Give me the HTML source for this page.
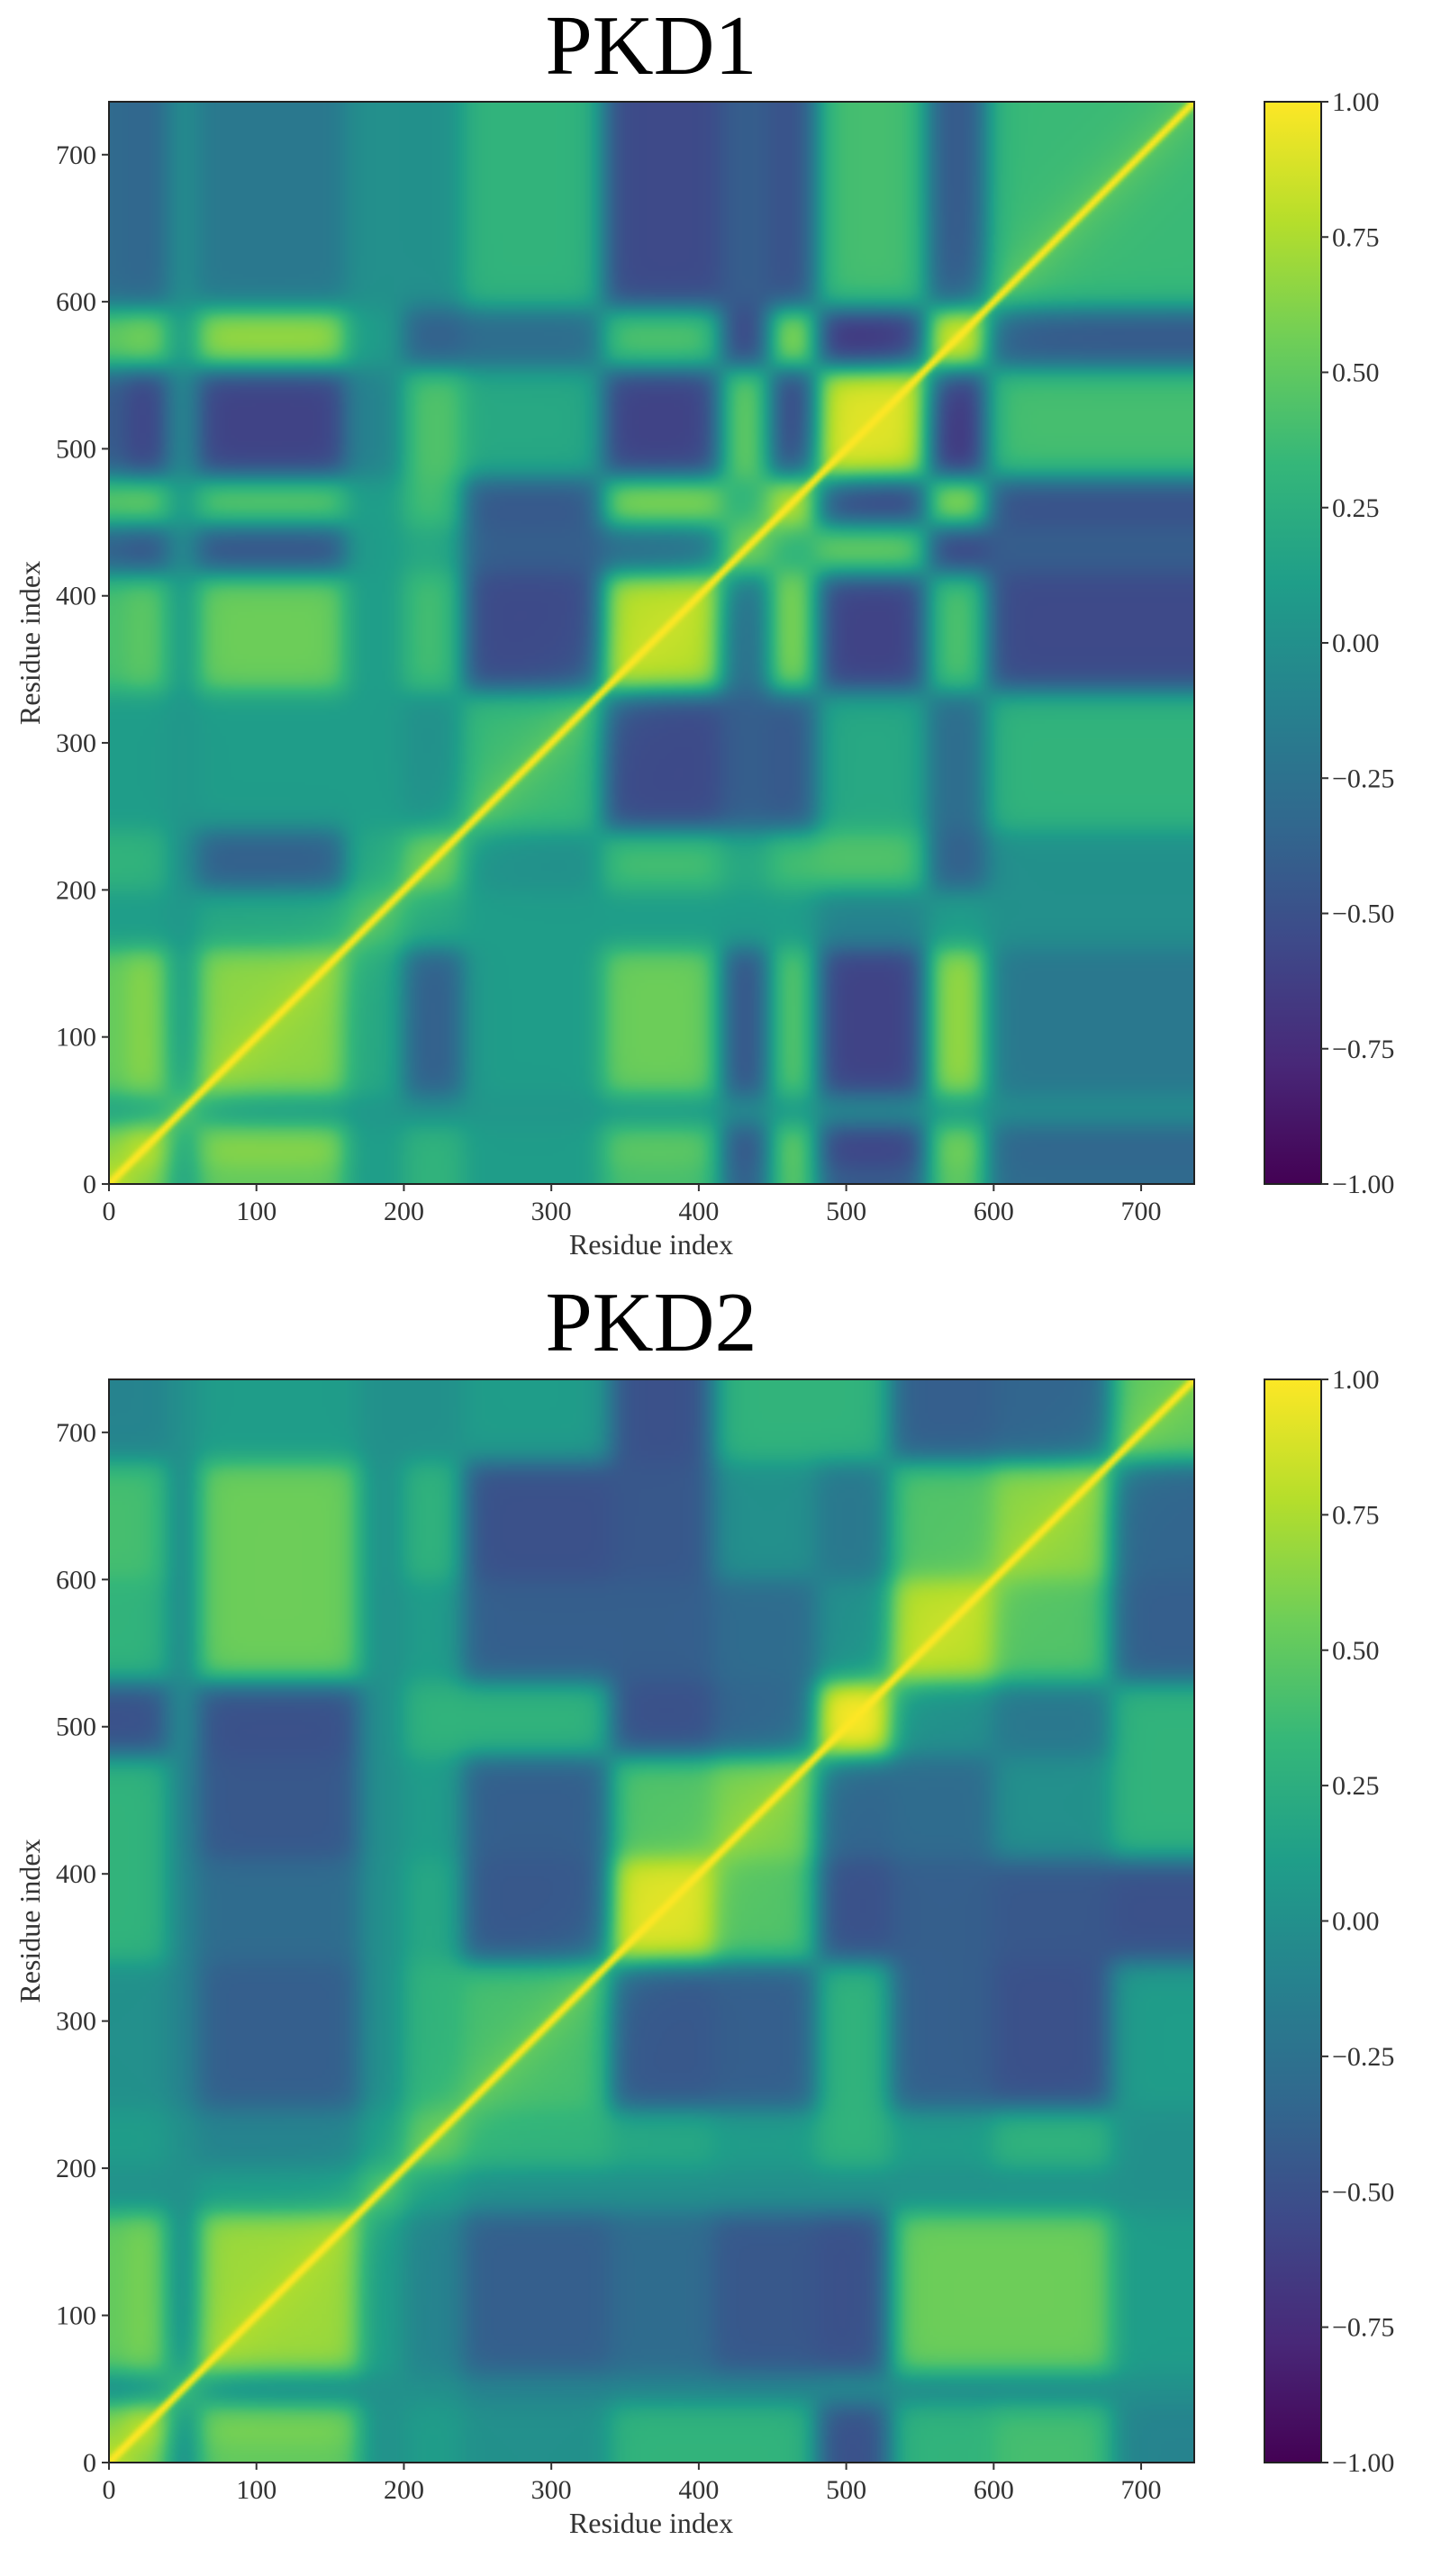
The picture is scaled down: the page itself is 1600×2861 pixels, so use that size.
<!DOCTYPE html>
<html><head><meta charset="utf-8"><style>
html,body{margin:0;padding:0;background:#fff;}
body{width:1600px;height:2861px;position:relative;overflow:hidden;font-family:"Liberation Serif",serif;}
canvas{position:absolute;}
svg{position:absolute;left:0;top:0;}
</style></head><body>
<canvas id="hm1" width="368" height="368" style="left:121px;top:113px;width:1205px;height:1202px;"></canvas>
<canvas id="hm2" width="368" height="368" style="left:121px;top:1532px;width:1205px;height:1203px;"></canvas>
<svg id="svg" width="1600" height="2861"></svg>
<script>
const nResidues = 736;
const xTicks = [0,100,200,300,400,500,600,700];
const cbTicks = [1.00,0.75,0.50,0.25,0.00,-0.25,-0.50,-0.75,-1.00];
const titles = ["PKD1","PKD2"];
const blockEnds1 = [12,40,60,160,200,240,335,415,448,480,555,595,736];
const blockCorr1 = [
[0.8,0.6,0.1,0.5,0.1,0.3,0.1,0.4,-0.4,0.5,-0.4,0.5,-0.3],
[0.6,0.8,0.1,0.65,0.1,0.3,0.1,0.5,-0.5,0.55,-0.6,0.6,-0.35],
[0.1,0.1,0.4,0.05,0.05,0.0,0.05,0.05,0.0,0.05,0.0,0.05,0.0],
[0.5,0.65,0.05,0.65,0.2,-0.4,0.1,0.55,-0.5,0.5,-0.6,0.7,-0.2],
[0.1,0.1,0.05,0.2,0.35,0.2,0.1,0.1,0.1,0.1,-0.1,0.1,0.0],
[0.3,0.3,0.0,-0.4,0.2,0.5,0.0,0.4,0.2,0.4,0.45,-0.4,0.0],
[0.1,0.1,0.05,0.1,0.1,0.0,0.35,-0.55,-0.4,-0.45,0.2,-0.3,0.3],
[0.4,0.5,0.05,0.55,0.1,0.4,-0.55,0.8,-0.3,0.65,-0.6,0.45,-0.55],
[-0.4,-0.5,0.0,-0.5,0.1,0.2,-0.4,-0.3,0.5,0.25,0.55,-0.6,-0.4],
[0.5,0.55,0.05,0.5,0.1,0.4,-0.45,0.65,0.25,0.8,-0.6,0.7,-0.5],
[-0.4,-0.6,0.0,-0.6,-0.1,0.45,0.2,-0.6,0.55,-0.6,0.9,-0.7,0.4],
[0.5,0.6,0.05,0.7,0.1,-0.4,-0.3,0.45,-0.6,0.7,-0.7,0.9,-0.45],
[-0.3,-0.35,0.0,-0.2,0.0,0.0,0.3,-0.55,-0.4,-0.5,0.4,-0.45,0.35]];
const blockEnds2 = [12,40,60,170,200,240,340,410,480,530,600,680,736];
const blockCorr2 = [
[0.8,0.6,-0.1,0.5,0.0,0.1,0.0,0.3,0.3,-0.5,0.3,0.4,-0.1],
[0.6,0.8,-0.1,0.6,0.0,0.1,0.0,0.3,0.3,-0.5,0.3,0.4,-0.1],
[-0.1,-0.1,0.3,-0.1,0.0,0.0,-0.1,-0.1,-0.1,0.0,-0.1,-0.1,0.0],
[0.5,0.6,-0.1,0.7,0.1,-0.1,-0.4,-0.3,-0.45,-0.5,0.55,0.55,0.1],
[0,0,0,0.1,0.35,0.1,0,0,0,0,0,0,0],
[0.1,0.1,0,-0.1,0.1,0.45,0.3,0.2,0.1,0.3,0.1,0.3,0.0],
[0,0,-0.1,-0.4,0,0.3,0.4,-0.45,-0.4,0.3,-0.4,-0.5,0.1],
[0.3,0.3,-0.1,-0.3,0,0.2,-0.45,0.9,0.45,-0.5,-0.4,-0.45,-0.5],
[0.3,0.3,-0.1,-0.45,0,0.1,-0.4,0.45,0.6,-0.35,-0.3,0.0,0.3],
[-0.5,-0.5,0,-0.5,0,0.3,0.3,-0.5,-0.35,1.0,0.0,-0.2,0.3],
[0.3,0.3,-0.1,0.55,0,0.1,-0.4,-0.4,-0.3,0.0,0.8,0.45,-0.4],
[0.4,0.4,-0.1,0.55,0,0.3,-0.5,-0.45,0.0,-0.2,0.45,0.65,-0.35],
[-0.1,-0.1,0,0.1,0,0,0.1,-0.5,0.3,0.3,-0.4,-0.35,0.5]];

const VIR = ["#440154","#482878","#3e4989","#31688e","#26828e","#1f9e89","#35b779","#6ece58","#b5de2b","#fde725"].map(h=>[parseInt(h.substr(1,2),16),parseInt(h.substr(3,2),16),parseInt(h.substr(5,2),16)]);
function viridis(t){t=Math.max(0,Math.min(1,t));const p=t*(VIR.length-1);const i=Math.min(VIR.length-2,Math.floor(p));const f=p-i;
 return [0,1,2].map(k=>Math.round(VIR[i][k]+(VIR[i+1][k]-VIR[i][k])*f));}
function sig(x){return 1/(1+Math.exp(-x));}
function memberships(r,ends){const w=[];let s=0,sum=0;for(let k=0;k<ends.length;k++){const v=sig((r-s)/5)*sig((ends[k]-r)/5);w.push(v);sum+=v;s=ends[k];}return w.map(v=>v/sum);}
function drawHeat(id,ends,M){
 const cv=document.getElementById(id),N=cv.width,ctx=cv.getContext('2d'),img=ctx.createImageData(N,N);
 const W=[];for(let i=0;i<N;i++)W.push(memberships((i+0.5)*nResidues/N,ends));
 const nb=ends.length;
 for(let i=0;i<N;i++)for(let j=0;j<N;j++){
  let v=0;for(let a=0;a<nb;a++){const wa=W[i][a];if(wa<1e-4)continue;for(let b=0;b<nb;b++){const wb=W[j][b];if(wb<1e-4)continue;v+=wa*wb*(M[a][b]+M[b][a])/2;}}
  const d=Math.abs(i-j)*nResidues/N;
  const ridge=Math.max(Math.exp(-(d/5)*(d/5)),0.25*Math.exp(-d/20));
  v=v+(1-v)*ridge;
  const c=viridis((v+1)/2);const row=N-1-j;const o=(row*N+i)*4;
  img.data[o]=c[0];img.data[o+1]=c[1];img.data[o+2]=c[2];img.data[o+3]=255;}
 ctx.putImageData(img,0,0);}
drawHeat('hm1',blockEnds1,blockCorr1);
drawHeat('hm2',blockEnds2,blockCorr2);

const svg=document.getElementById('svg');const NS="http://www.w3.org/2000/svg";
function el(tag,attrs,text){const e=document.createElementNS(NS,tag);for(const k in attrs)e.setAttribute(k,attrs[k]);if(text!==undefined)e.textContent=text;svg.appendChild(e);return e;}
const defs=el('defs',{});const lg=document.createElementNS(NS,'linearGradient');lg.setAttribute('id','vg');lg.setAttribute('x1','0');lg.setAttribute('y1','1');lg.setAttribute('x2','0');lg.setAttribute('y2','0');
VIR.forEach((c,i)=>{const s=document.createElementNS(NS,'stop');s.setAttribute('offset',i/(VIR.length-1));s.setAttribute('stop-color','rgb('+c.join(',')+')');lg.appendChild(s);});defs.appendChild(lg);
const L=121,R=1326,CBL=1404,CBR=1467;
[[113,1315,82],[1532,2735,1500]].forEach((p,pi)=>{
 const top=p[0],bot=p[1];const xs=v=>L+v/nResidues*(R-L);const ys=v=>bot-v/nResidues*(bot-top);
 let t=el('text',{x:723,y:p[2],'font-size':94,'text-anchor':'middle',fill:'#000'},titles[pi]);
 
 
 let fr=el('rect',{x:L,y:top,width:R-L,height:bot-top,fill:'none',stroke:'#222','stroke-width':2});
 
 
 xTicks.forEach(v=>{
  el('line',{x1:xs(v),x2:xs(v),y1:bot,y2:bot+8,stroke:'#333','stroke-width':2});
  let a=el('text',{x:xs(v),y:bot+40,'font-size':30,'text-anchor':'middle',fill:'#333'},String(v));
  
  
  el('line',{x1:L-8,x2:L,y1:ys(v),y2:ys(v),stroke:'#333','stroke-width':2});
  let b=el('text',{x:L-14,y:ys(v)+10,'font-size':30,'text-anchor':'end',fill:'#333'},String(v));
  
  
 });
 let xl=el('text',{x:723,y:bot+78,'font-size':32,'text-anchor':'middle',fill:'#333'},'Residue index');
 
 
 const cy=(top+bot)/2;
 let yl=el('text',{x:0,y:0,'font-size':32,'text-anchor':'middle',fill:'#333',transform:'translate(44,'+cy+') rotate(-90)'},'Residue index');
 
 
 let cb=el('rect',{x:CBL,y:top,width:CBR-CBL,height:bot-top,fill:'url(#vg)',stroke:'#222','stroke-width':2});
 
 
 cbTicks.forEach(v=>{const y=bot-(v+1)/2*(bot-top);
  el('line',{x1:CBR,x2:CBR+8,y1:y,y2:y,stroke:'#333','stroke-width':2});
  let c=el('text',{x:CBR+12,y:y+10,'font-size':30,fill:'#333'},(v<0?'\u2212':'')+Math.abs(v).toFixed(2));
  
  
 });
});
</script>
</body></html>
